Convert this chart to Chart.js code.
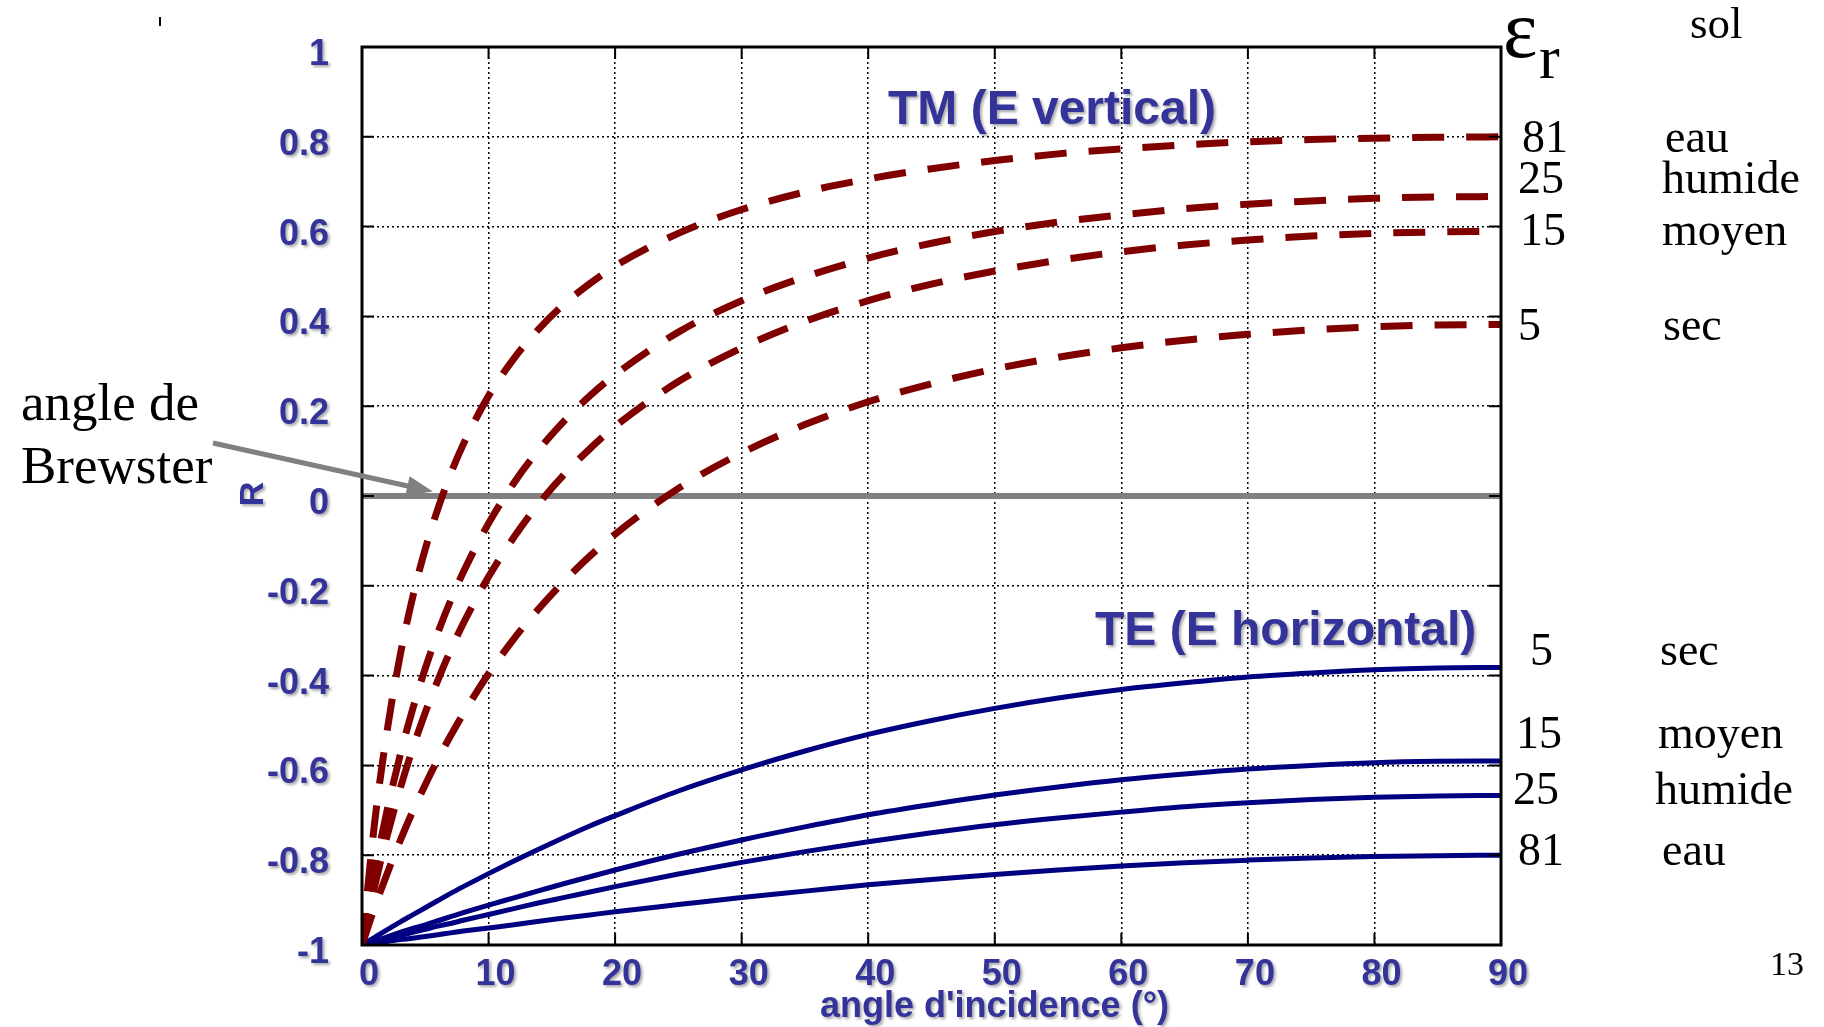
<!DOCTYPE html>
<html>
<head>
<meta charset="utf-8">
<title>Coefficient de réflexion R</title>
<script src="https://cdn.jsdelivr.net/npm/chart.js@4.4.1/dist/chart.umd.min.js"></script>
<style>
  html, body { margin: 0; padding: 0; background: #fff; }
</style>
</head>
<body>
<canvas id="chart" width="1824" height="1027"></canvas>
<script>
// angle d'incidence (degrés) et coefficients
const angles = [0, 1, 2, 3, 4, 5, 6, 7, 8, 10, 12, 14, 16, 18, 20, 25, 30, 35, 40, 45, 50, 55, 60, 65, 70, 75, 80, 85, 90];

// TM (E vertical)
const tm81 = [-1, -0.727, -0.520, -0.357, -0.226, -0.118, -0.028, 0.049, 0.115, 0.223, 0.306, 0.373, 0.428, 0.473, 0.512, 0.585, 0.638, 0.677, 0.706, 0.729, 0.747, 0.762, 0.773, 0.782, 0.789, 0.794, 0.797, 0.799, 0.800];
const tm25 = [-1, -0.836, -0.698, -0.579, -0.475, -0.384, -0.304, -0.233, -0.170, -0.061, 0.029, 0.104, 0.168, 0.223, 0.270, 0.365, 0.435, 0.488, 0.530, 0.563, 0.589, 0.610, 0.626, 0.640, 0.650, 0.657, 0.663, 0.666, 0.667];
const tm15 = [-1, -0.869, -0.755, -0.653, -0.563, -0.482, -0.410, -0.344, -0.284, -0.180, -0.092, -0.016, 0.049, 0.105, 0.155, 0.255, 0.330, 0.389, 0.435, 0.472, 0.501, 0.525, 0.544, 0.559, 0.570, 0.579, 0.585, 0.588, 0.590];
const tm5  = [-1, -0.916, -0.840, -0.769, -0.703, -0.643, -0.586, -0.534, -0.485, -0.396, -0.318, -0.250, -0.189, -0.134, -0.085, 0.017, 0.096, 0.159, 0.210, 0.250, 0.283, 0.309, 0.330, 0.347, 0.360, 0.370, 0.377, 0.381, 0.382];

// TE (E horizontal)
const te5  = [-1, -0.983, -0.966, -0.949, -0.933, -0.917, -0.901, -0.885, -0.870, -0.841, -0.813, -0.786, -0.760, -0.735, -0.712, -0.657, -0.610, -0.568, -0.531, -0.500, -0.473, -0.450, -0.431, -0.416, -0.403, -0.394, -0.387, -0.383, -0.382];
const te15 = [-1, -0.991, -0.982, -0.972, -0.963, -0.955, -0.946, -0.937, -0.928, -0.911, -0.895, -0.879, -0.863, -0.848, -0.833, -0.798, -0.766, -0.737, -0.710, -0.687, -0.666, -0.648, -0.632, -0.619, -0.608, -0.600, -0.594, -0.591, -0.590];
const te25 = [-1, -0.993, -0.986, -0.979, -0.972, -0.965, -0.958, -0.952, -0.945, -0.932, -0.919, -0.906, -0.894, -0.882, -0.870, -0.842, -0.816, -0.792, -0.770, -0.750, -0.732, -0.717, -0.704, -0.692, -0.683, -0.676, -0.671, -0.668, -0.667];
const te81 = [-1, -0.996, -0.992, -0.988, -0.985, -0.981, -0.977, -0.973, -0.969, -0.962, -0.955, -0.947, -0.940, -0.933, -0.926, -0.910, -0.894, -0.880, -0.866, -0.854, -0.843, -0.833, -0.824, -0.817, -0.811, -0.806, -0.803, -0.801, -0.800];

// ligne R = 0
const zeroX = [0, 90];
const zeroY = [0, 0];

// graduations
const xTicks = [0, 10, 20, 30, 40, 50, 60, 70, 80, 90];
const yTicks = [-1, -0.8, -0.6, -0.4, -0.2, 0, 0.2, 0.4, 0.6, 0.8, 1];
const yTickLabels = ['-1', '-0.8', '-0.6', '-0.4', '-0.2', '0', '0.2', '0.4', '0.6', '0.8', '1'];

// étiquettes à droite
const tmEps = ['81', '25', '15', '5'];
const tmSoil = ['eau', 'humide', 'moyen', 'sec'];
const teEps = ['5', '15', '25', '81'];
const teSoil = ['sec', 'moyen', 'humide', 'eau'];
const brewsterAngle = 5.6;

const BLUE = '#333399';
const RED = '#800000';
const NAVY = '#000080';
const SANS = '"Liberation Sans", Arial, sans-serif';
const SERIF = '"Liberation Serif", "Times New Roman", serif';

const pts = (xs, ys) => xs.map((v, i) => ({x: v, y: ys[i]}));

function tmSet(data) {
  return {data: pts(angles, data), borderColor: RED, borderWidth: 7, borderDash: [32, 22],
    pointRadius: 0, cubicInterpolationMode: 'monotone', fill: false, order: 1};
}
function teSet(data) {
  return {data: pts(angles, data), borderColor: NAVY, borderWidth: 5,
    pointRadius: 0, cubicInterpolationMode: 'monotone', fill: false, order: 2};
}

function shadowOn(ctx) {
  ctx.shadowColor = 'rgba(0,0,0,0.35)';
  ctx.shadowBlur = 3;
  ctx.shadowOffsetX = 2;
  ctx.shadowOffsetY = 2;
}
function shadowOff(ctx) {
  ctx.shadowColor = 'rgba(0,0,0,0)';
  ctx.shadowBlur = 0;
  ctx.shadowOffsetX = 0;
  ctx.shadowOffsetY = 0;
}

const decor = {
  id: 'decor',
  afterDatasetsDraw(chart) {
    const {ctx, chartArea: a, scales: {x, y}} = chart;
    ctx.save();
    // cadre
    ctx.strokeStyle = '#000';
    ctx.lineWidth = 3;
    ctx.strokeRect(a.left, a.top, a.right - a.left, a.bottom - a.top);
    // petites graduations intérieures
    ctx.lineWidth = 2;
    ctx.beginPath();
    x.ticks.forEach(t => {
      const px = x.getPixelForValue(t.value);
      ctx.moveTo(px, a.bottom); ctx.lineTo(px, a.bottom - 12);
      ctx.moveTo(px, a.top); ctx.lineTo(px, a.top + 12);
    });
    y.ticks.forEach(t => {
      const py = y.getPixelForValue(t.value);
      ctx.moveTo(a.left, py); ctx.lineTo(a.left + 12, py);
      ctx.moveTo(a.right, py); ctx.lineTo(a.right - 12, py);
    });
    ctx.stroke();

    // flèche angle de Brewster
    const tx = x.getPixelForValue(brewsterAngle), ty = y.getPixelForValue(0.01);
    const sx = 213, sy = 443;
    const ang = Math.atan2(ty - sy, tx - sx);
    ctx.strokeStyle = '#808080';
    ctx.fillStyle = '#808080';
    ctx.lineWidth = 5;
    ctx.beginPath();
    ctx.moveTo(sx, sy);
    ctx.lineTo(tx - 20 * Math.cos(ang), ty - 20 * Math.sin(ang));
    ctx.stroke();
    ctx.beginPath();
    ctx.moveTo(tx, ty);
    ctx.lineTo(tx - 26 * Math.cos(ang) + 10 * Math.sin(ang), ty - 26 * Math.sin(ang) - 10 * Math.cos(ang));
    ctx.lineTo(tx - 26 * Math.cos(ang) - 10 * Math.sin(ang), ty - 26 * Math.sin(ang) + 10 * Math.cos(ang));
    ctx.closePath();
    ctx.fill();

    // petit trait en haut à gauche
    ctx.strokeStyle = '#000';
    ctx.lineWidth = 2;
    ctx.beginPath();
    ctx.moveTo(160, 17); ctx.lineTo(160, 26);
    ctx.stroke();
    ctx.restore();

    // les étiquettes des axes (z = 1) sont dessinées juste après : ombre
    shadowOn(ctx);
  },
  afterDraw(chart) {
    const ctx = chart.ctx;
    shadowOff(ctx);
    ctx.save();

    // textes bleus avec ombre
    shadowOn(ctx);
    ctx.fillStyle = BLUE;
    ctx.textBaseline = 'alphabetic';
    ctx.textAlign = 'left';
    ctx.font = 'bold 48px ' + SANS;
    ctx.fillText('TM (E vertical)', 888, 124);
    ctx.fillText('TE (E horizontal)', 1095, 645);
    ctx.font = 'bold 36px ' + SANS;
    ctx.fillText("angle d'incidence (°)", 820, 1017);
    ctx.save();
    ctx.translate(254, 494);
    ctx.rotate(-Math.PI / 2);
    ctx.textAlign = 'center';
    ctx.textBaseline = 'middle';
    ctx.font = 'bold 34px ' + SANS;
    ctx.fillText('R', 0, 0);
    ctx.restore();
    shadowOff(ctx);

    // textes noirs
    ctx.fillStyle = '#000';
    ctx.textAlign = 'left';
    ctx.textBaseline = 'alphabetic';
    ctx.font = '53px ' + SERIF;
    ctx.fillText('angle de', 21, 420);
    ctx.fillText('Brewster', 21, 483);

    ctx.font = '82px ' + SERIF;
    ctx.fillText('ε', 1503, 57);
    ctx.font = '62px ' + SERIF;
    ctx.fillText('r', 1539, 78);
    ctx.font = '45px ' + SERIF;
    ctx.fillText('sol', 1690, 38);

    ctx.font = '46px ' + SERIF;
    const tmEpsX = [1522, 1518, 1520, 1518];
    const tmSoilX = [1665, 1662, 1662, 1663];
    const tmBase = [152, 193, 245, 340];
    tmEps.forEach((t, i) => ctx.fillText(t, tmEpsX[i], tmBase[i]));
    tmSoil.forEach((t, i) => ctx.fillText(t, tmSoilX[i], tmBase[i]));

    const teEpsX = [1530, 1516, 1513, 1518];
    const teSoilX = [1660, 1658, 1655, 1662];
    const teBase = [665, 748, 804, 865];
    teEps.forEach((t, i) => ctx.fillText(t, teEpsX[i], teBase[i]));
    teSoil.forEach((t, i) => ctx.fillText(t, teSoilX[i], teBase[i]));

    ctx.font = '34px ' + SERIF;
    ctx.fillText('13', 1770, 975);
    ctx.restore();
  }
};

new Chart(document.getElementById('chart'), {
  type: 'line',
  data: {
    datasets: [
      tmSet(tm81), tmSet(tm25), tmSet(tm15), tmSet(tm5),
      teSet(te5), teSet(te15), teSet(te25), teSet(te81),
      {data: pts(zeroX, zeroY), borderColor: '#808080', borderWidth: 6, pointRadius: 0, order: 10}
    ]
  },
  options: {
    responsive: false,
    animation: false,
    devicePixelRatio: 1,
    layout: {padding: {left: 0, right: 323, top: 47, bottom: 0}},
    plugins: {legend: {display: false}, tooltip: {enabled: false}},
    scales: {
      x: {
        type: 'linear', min: 0, max: 90,
        afterBuildTicks: s => { s.ticks = xTicks.map(v => ({value: v})); },
        afterFit: s => { s.height = 82; s.paddingLeft = 0; s.paddingRight = 0; },
        ticks: {
          color: BLUE, padding: 12, labelOffset: 7, z: 1, maxRotation: 0,
          font: {family: SANS, size: 36, weight: 'bold', lineHeight: 1}
        },
        grid: {color: '#000', lineWidth: 1.5, drawTicks: false},
        border: {display: false, dash: [2, 3]}
      },
      y: {
        type: 'linear', min: -1, max: 1,
        afterBuildTicks: s => { s.ticks = yTicks.map(v => ({value: v})); },
        afterFit: s => { s.width = 362; s.paddingTop = 0; s.paddingBottom = 0; },
        ticks: {
          color: BLUE, padding: 33, labelOffset: 8, z: 1,
          font: {family: SANS, size: 36, weight: 'bold', lineHeight: 1},
          callback: v => yTickLabels[yTicks.indexOf(Math.round(v * 10) / 10)]
        },
        grid: {color: '#000', lineWidth: 1.5, drawTicks: false},
        border: {display: false, dash: [2, 3]}
      }
    }
  },
  plugins: [decor]
});
</script>
</body>
</html>
